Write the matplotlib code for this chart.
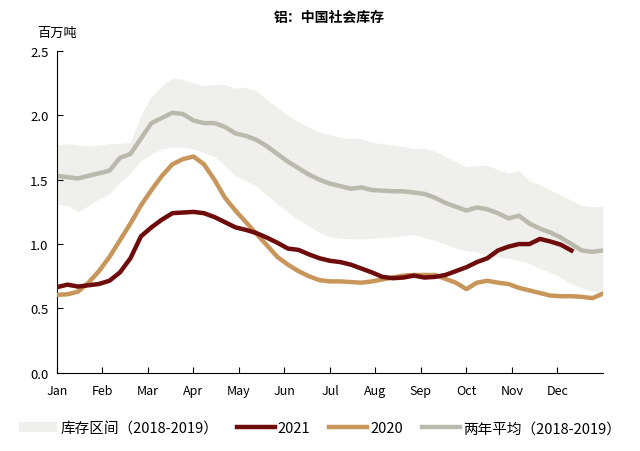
import numpy as np
import matplotlib
matplotlib.use("Agg")
import matplotlib.pyplot as plt

plt.rcParams['font.family'] = ['Noto Sans CJK SC', 'DejaVu Sans']

months = ['Jan', 'Feb', 'Mar', 'Apr', 'May', 'Jun', 'Jul', 'Aug', 'Sep', 'Oct', 'Nov', 'Dec']

# weekly values, week 0 .. 52
band_hi = [1.77, 1.78, 1.77, 1.76, 1.77, 1.78, 1.78, 1.79, 2.00, 2.15, 2.23, 2.29, 2.28,
           2.25, 2.23, 2.24, 2.24, 2.21, 2.22, 2.19, 2.12, 2.06, 2.00, 1.95, 1.91, 1.87,
           1.85, 1.83, 1.82, 1.82, 1.79, 1.78, 1.77, 1.76, 1.74, 1.745, 1.72, 1.68, 1.64,
           1.60, 1.61, 1.61, 1.58, 1.55, 1.57, 1.49, 1.46, 1.42, 1.38, 1.34, 1.30, 1.29, 1.29]
band_lo = [1.31, 1.30, 1.25, 1.30, 1.35, 1.39, 1.48, 1.55, 1.65, 1.70, 1.74, 1.755, 1.75,
           1.74, 1.71, 1.68, 1.61, 1.53, 1.49, 1.45, 1.38, 1.31, 1.25, 1.19, 1.14, 1.09,
           1.055, 1.045, 1.04, 1.04, 1.045, 1.05, 1.055, 1.065, 1.075, 1.05, 1.03, 1.00, 0.97,
           0.95, 0.94, 0.91, 0.90, 0.89, 0.87, 0.85, 0.81, 0.78, 0.74, 0.69, 0.66, 0.63, 0.62]
avg_1819 = [1.53, 1.52, 1.51, 1.53, 1.55, 1.57, 1.67, 1.70, 1.82, 1.94, 1.98, 2.02, 2.01,
            1.96, 1.94, 1.94, 1.91, 1.86, 1.84, 1.81, 1.76, 1.70, 1.64, 1.59, 1.54, 1.50,
            1.47, 1.45, 1.43, 1.44, 1.42, 1.415, 1.41, 1.41, 1.40, 1.39, 1.36, 1.32, 1.29,
            1.26, 1.285, 1.27, 1.24, 1.20, 1.22, 1.16, 1.12, 1.09, 1.05, 1.00, 0.95, 0.94, 0.95]
y2021 = [0.665, 0.685, 0.67, 0.68, 0.69, 0.715, 0.78, 0.89, 1.06, 1.13, 1.19, 1.24, 1.245,
         1.25, 1.24, 1.21, 1.17, 1.13, 1.11, 1.085, 1.05, 1.01, 0.965, 0.955, 0.92, 0.89,
         0.87, 0.86, 0.84, 0.81, 0.78, 0.745, 0.735, 0.74, 0.755, 0.74, 0.745, 0.76, 0.79,
         0.82, 0.86, 0.89, 0.95, 0.98, 1.00, 1.00, 1.04, 1.02, 0.995, 0.95]
y2020 = [0.605, 0.61, 0.63, 0.70, 0.79, 0.90, 1.03, 1.16, 1.30, 1.42, 1.53, 1.62, 1.66,
         1.68, 1.62, 1.50, 1.36, 1.26, 1.17, 1.08, 0.99, 0.90, 0.84, 0.79, 0.75, 0.72,
         0.71, 0.71, 0.705, 0.70, 0.71, 0.725, 0.74, 0.755, 0.76, 0.76, 0.76, 0.73, 0.70,
         0.65, 0.70, 0.715, 0.70, 0.69, 0.66, 0.64, 0.62, 0.60, 0.595, 0.595, 0.59, 0.58, 0.615]

wk = np.arange(53) * 12 / 52.

fig = plt.figure(figsize=(6.4, 4.52), dpi=100)
ax = fig.add_axes([0.089, 0.173, 0.853, 0.712])

ax.fill_between(wk, band_lo, band_hi, color='#efefec', lw=0, label='库存区间（2018-2019）')
ax.plot(wk[:len(y2021)], y2021, color='#6e0b0b', lw=3.2, label='2021', zorder=4)
ax.plot(wk, y2020, color='#c8955a', lw=3.2, label='2020', zorder=3)
ax.plot(wk, avg_1819, color='#b9b9ae', lw=3.2, label='两年平均（2018-2019）', zorder=2)

ax.set_xlim(0, 12)
ax.set_ylim(0, 2.5)
ax.set_xticks(range(12))
ax.set_xticklabels(months, fontsize=9)
ax.set_yticks([0, 0.5, 1.0, 1.5, 2.0, 2.5])
ax.set_yticklabels(['0.0', '0.5', '1.0', '1.5', '2.0', '2.5'], fontsize=9.5)
ax.tick_params(direction='in', length=4, width=0.8, pad=6)
ax.tick_params(axis='x', pad=8)
for s in ['top', 'right']:
    ax.spines[s].set_visible(False)

fig.text(0.515, 0.96, '铝：中国社会库存', ha='center', va='center', fontsize=10, fontweight='bold')
fig.text(0.058, 0.927, '百万吨', ha='left', va='center', fontsize=9.5)

fig.legend(loc='center', bbox_to_anchor=(0.5, 0.05), ncol=4, frameon=False, fontsize=10.5,
           handlelength=2.6, handletextpad=0.2, columnspacing=1.3)

fig.savefig('out.png', dpi=100)
